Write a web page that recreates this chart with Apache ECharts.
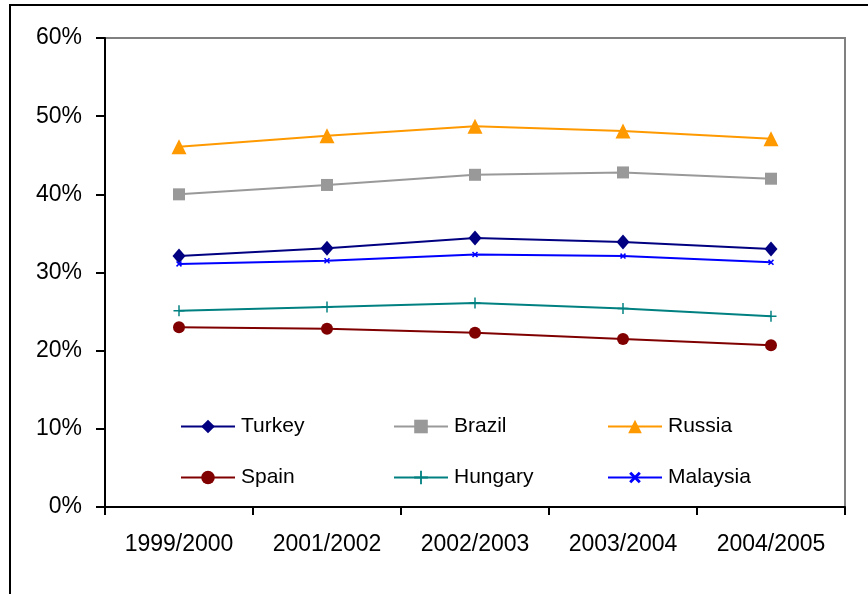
<!DOCTYPE html>
<html>
<head>
<meta charset="utf-8">
<script src="https://cdn.jsdelivr.net/npm/echarts@6/dist/echarts.min.js"></script>
<style>
  html, body { margin: 0; padding: 0; background: #fff; }
  #chart { width: 868px; height: 594px; }
</style>
</head>
<body>
<div id="chart"></div>
<script>
// Season categories on the x axis
const seasons = ['1999/2000', '2001/2002', '2002/2003', '2003/2004', '2004/2005'];

// Share per country, in percent
const turkey   = [32.1, 33.1, 34.4, 33.9, 33.0];
const brazil   = [40.0, 41.2, 42.5, 42.8, 42.0];
const russia   = [46.1, 47.5, 48.7, 48.1, 47.1];
const spain    = [23.0, 22.8, 22.3, 21.5, 20.7];
const hungary  = [25.1, 25.6, 26.1, 25.4, 24.4];
const malaysia = [31.1, 31.5, 32.3, 32.1, 31.3];

const yTicks = [0, 10, 20, 30, 40, 50, 60];

const FONT = '"Liberation Sans", Arial, sans-serif';
const plusPath = 'path://M-0.8,-6 L0.8,-6 L0.8,-0.8 L6,-0.8 L6,0.8 L0.8,0.8 L0.8,6 L-0.8,6 L-0.8,0.8 L-6,0.8 L-6,-0.8 L-0.8,-0.8 Z';
const crossPath = 'path://M-1.3,-6 L1.3,-6 L1.3,-1.3 L6,-1.3 L6,1.3 L1.3,1.3 L1.3,6 L-1.3,6 L-1.3,1.3 L-6,1.3 L-6,-1.3 L-1.3,-1.3 Z';

function line(name, data, color, symbol, size, extra) {
  return Object.assign({
    name: name,
    type: 'line',
    data: data,
    symbol: symbol,
    symbolSize: size,
    showAllSymbol: true,
    animation: false,
    lineStyle: { color: color, width: 2 },
    itemStyle: { color: color, borderWidth: 0 }
  }, extra || {});
}

function legendAt(name, left, top) {
  return {
    data: [name],
    left: left,
    top: top,
    orient: 'horizontal',
    itemWidth: 54,
    itemHeight: 17,
    itemGap: 0,
    padding: 0,
    selectedMode: false,
    textStyle: { fontFamily: FONT, fontSize: 21, color: '#000', padding: [0, 0, 0, 1] }
  };
}

const chart = echarts.init(document.getElementById('chart'), null, { renderer: 'canvas' });

chart.setOption({
  backgroundColor: '#fff',
  animation: false,
  graphic: [{
    type: 'rect',
    shape: { x: 10, y: 5, width: 1000, height: 800 },
    style: { fill: 'none', stroke: '#000', lineWidth: 2 },
    silent: true,
    z: 100
  }],
  grid: {
    left: 105, top: 38, right: 23, bottom: 87,
    show: true, borderColor: '#808080', borderWidth: 2, backgroundColor: '#fff'
  },
  legend: [
    legendAt('Turkey', 180, 416),
    legendAt('Brazil', 393, 416),
    legendAt('Russia', 607, 416),
    legendAt('Spain', 180, 467),
    legendAt('Hungary', 393, 467),
    legendAt('Malaysia', 607, 467)
  ],
  xAxis: {
    type: 'category',
    data: seasons,
    boundaryGap: true,
    axisLine: { lineStyle: { color: '#000', width: 2 } },
    axisTick: { show: true, alignWithLabel: false, length: 8, lineStyle: { color: '#000', width: 2 } },
    axisLabel: { fontFamily: FONT, fontSize: 23, color: '#000', margin: 26, interval: 0 },
    splitLine: { show: false }
  },
  yAxis: {
    type: 'value',
    min: yTicks[0],
    max: yTicks[yTicks.length - 1],
    interval: 10,
    axisLine: { show: true, lineStyle: { color: '#000', width: 2 } },
    axisTick: { show: true, length: 9, lineStyle: { color: '#000', width: 2 } },
    axisLabel: { fontFamily: FONT, fontSize: 23, color: '#000', margin: 23, formatter: '{value}%' },
    splitLine: { show: false }
  },
  series: [
    line('Turkey', turkey, '#000080', 'diamond', [13, 15]),
    line('Brazil', brazil, '#999999', 'rect', 12),
    line('Russia', russia, '#FF9900', 'triangle', 15),
    line('Spain', spain, '#800000', 'circle', 12),
    line('Hungary', hungary, '#008080', plusPath, 11),
    line('Malaysia', malaysia, '#0000FF', crossPath, 7, { symbolRotate: 45 })
  ]
});
</script>
</body>
</html>
